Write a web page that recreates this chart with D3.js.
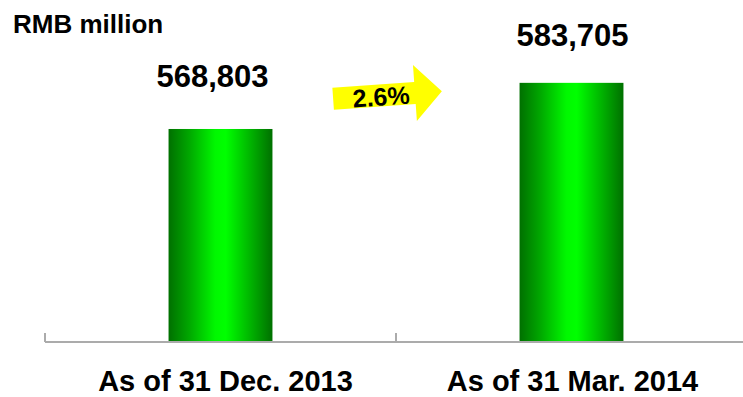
<!DOCTYPE html>
<html>
<head>
<meta charset="utf-8">
<script src="https://cdn.jsdelivr.net/npm/d3@7/dist/d3.min.js"></script>
<style>
  html, body { margin: 0; padding: 0; background: #fff; }
  svg { display: block; }
  text { font-family: "Liberation Sans", Arial, sans-serif; font-weight: bold; fill: #000; }
</style>
</head>
<body>
<svg id="chart" width="743" height="397"></svg>
<script>
// Total assets, RMB million
const categories = ["As of 31 Dec. 2013", "As of 31 Mar. 2014"];
const values = [568803, 583705];
const unitLabel = "RMB million";
const yDomain = [500000, 600000];

const W = 743, H = 397;
const svg = d3.select("#chart");

const x = d3.scaleBand()
  .domain(categories)
  .range([45, 747])
  .paddingInner(0.704)
  .paddingOuter(0.352);

const y = d3.scaleLinear()
  .domain(yDomain)
  .range([342, 32.4]);

// horizontal gradient for the bars: dark edges, bright centre
const defs = svg.append("defs");
const grad = defs.append("linearGradient")
  .attr("id", "barGrad")
  .attr("x1", "0%").attr("x2", "100%").attr("y1", "0%").attr("y2", "0%");
[[0, "#007000"], [0.2, "#00a800"], [0.45, "#00f800"], [0.55, "#00ff00"], [0.8, "#00b000"], [1, "#007000"]]
  .forEach(([o, c]) => grad.append("stop").attr("offset", o).attr("stop-color", c));

// bars
svg.selectAll("rect.bar")
  .data(values)
  .join("rect")
  .attr("class", "bar")
  .attr("x", (d, i) => x(categories[i]))
  .attr("width", x.bandwidth())
  .attr("y", d => y(d))
  .attr("height", d => y(yDomain[0]) - y(d))
  .attr("fill", "url(#barGrad)");

// category axis: baseline with separators between categories
const axis = svg.append("g").attr("transform", `translate(0,${y(yDomain[0])})`);
axis.append("line")
  .attr("x1", 45).attr("x2", W)
  .attr("stroke", "#ababab").attr("stroke-width", 2);
const step = x.step();
const edges = [45, 45 + step];
axis.selectAll("line.tick")
  .data(edges)
  .join("line")
  .attr("class", "tick")
  .attr("x1", d => d).attr("x2", d => d)
  .attr("y1", -9).attr("y2", 0)
  .attr("stroke", "#ababab").attr("stroke-width", 2);

// category labels
const catDx = [5, 1];
svg.selectAll("text.cat")
  .data(categories)
  .join("text")
  .attr("class", "cat")
  .attr("x", (d, i) => x(d) + x.bandwidth() / 2 + catDx[i])
  .attr("y", 390.5)
  .attr("text-anchor", "middle")
  .style("font-size", "29px")
  .text(d => d);

// value labels
const fmt = d3.format(",");
const valDx = [-8, 1];
const valDy = [42, 36.5];
svg.selectAll("text.val")
  .data(values)
  .join("text")
  .attr("class", "val")
  .attr("x", (d, i) => x(categories[i]) + x.bandwidth() / 2 + valDx[i])
  .attr("y", (d, i) => y(d) - valDy[i])
  .attr("text-anchor", "middle")
  .style("font-size", "31px")
  .text(d => fmt(d));

// unit label
svg.append("text")
  .attr("x", 13).attr("y", 33)
  .style("font-size", "26px")
  .text(unitLabel);

// growth arrow
const growth = (values[1] - values[0]) / values[0];
const arrow = svg.append("g").attr("transform", "translate(387,95) rotate(-4)");
arrow.append("path")
  .attr("d", "M-54,-11 L28,-11 L28,-28 L55,0 L28,28 L28,11 L-54,11 Z")
  .attr("fill", "#ffff00");
arrow.append("text")
  .attr("x", -6).attr("y", 10)
  .attr("text-anchor", "middle")
  .style("font-size", "25px")
  .text(d3.format(".1%")(growth));
</script>
</body>
</html>
